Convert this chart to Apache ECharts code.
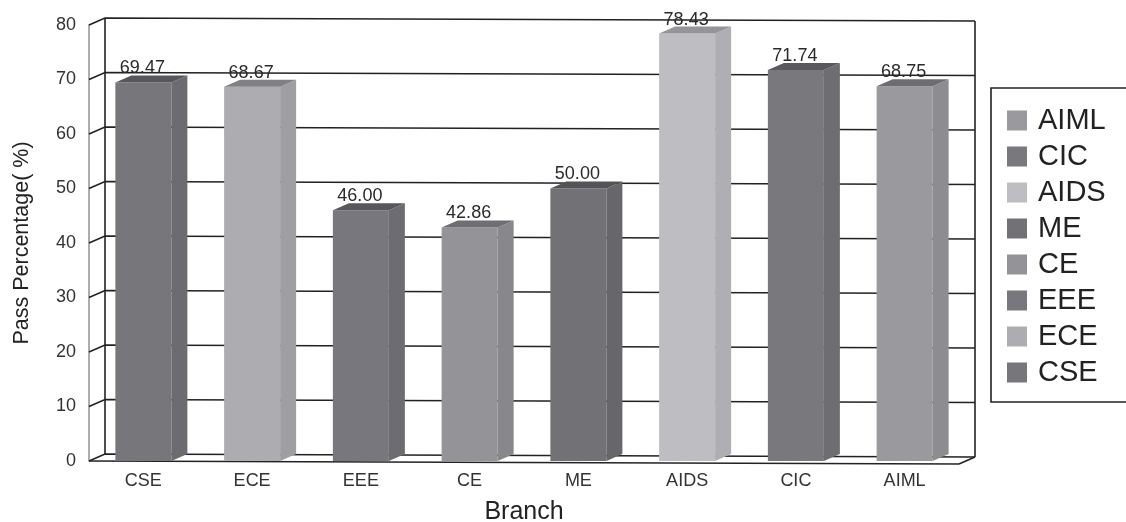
<!DOCTYPE html>
<html>
<head>
<meta charset="utf-8">
<style>html,body{margin:0;padding:0;background:#fff}#c{width:1126px;height:522px}</style>
<script src="https://cdn.jsdelivr.net/npm/echarts@6/dist/echarts.min.js"></script>
</head>
<body>
<div id="c"></div>
<script>
const categories = ['CSE','ECE','EEE','CE','ME','AIDS','CIC','AIML'];
const values = [69.47,68.67,46.00,42.86,50.00,78.43,71.74,68.75];
const yTicks = [0,10,20,30,40,50,60,70,80];
const legendOrder = ['AIML','CIC','AIDS','ME','CE','EEE','ECE','CSE'];
const frontColors = ['#76767b','#acacb1','#77777d','#939398','#717176','#bdbdc2','#78787d','#99999e'];
const sideColors  = ['#6b6b70','#9e9ea3','#6c6c72','#87878c','#66666b','#aeaeb3','#6d6d72','#8c8c91'];
const topColors   = ['#56565b','#808085','#57575c','#6e6e73','#535358','#949499','#58585d','#6c6c71'];

const DX = 16, DY = -7, TILT = 3, INK = '#222';

function renderFrame(params, api) {
  const tick = api.value(1);
  const rect = params.coordSys;
  const p = api.coord([0, tick]);
  const y = p[1];
  const left = rect.x, right = rect.x + rect.width;
  const children = [{
    type: 'polyline',
    shape: { points: [[left, y], [left + DX, y + DY], [right + DX, y + DY + TILT]] },
    style: { stroke: INK, lineWidth: 1.6, fill: 'none' }
  }];
  if (tick === 0) {
    const top = rect.y;
    children.push(
      { type: 'line', shape: { x1: left, y1: y, x2: right, y2: y + TILT }, style: { stroke: INK, lineWidth: 1.6 } },
      { type: 'line', shape: { x1: right, y1: y + TILT, x2: right + DX, y2: y + DY + TILT }, style: { stroke: INK, lineWidth: 1.6 } },
      { type: 'line', shape: { x1: left + DX, y1: y + DY, x2: left + DX, y2: top + DY }, style: { stroke: INK, lineWidth: 1.6 } },
      { type: 'line', shape: { x1: right + DX, y1: y + DY + TILT, x2: right + DX, y2: top + DY + TILT }, style: { stroke: INK, lineWidth: 1.6 } }
    );
  }
  return { type: 'group', children };
}

function barRenderer(i) {
  return function (params, api) {
    const band = api.size([1, 0])[0];
    const w = band * 0.515;
    const top = api.coord([api.value(0), api.value(1)]);
    const base = api.coord([api.value(0), 0]);
    const x0 = top[0] - w / 2, x1 = top[0] + w / 2, yt = top[1], yb = base[1];
    return {
      type: 'group',
      children: [
        { type: 'rect', shape: { x: x0, y: yt, width: w, height: yb - yt }, style: { fill: frontColors[i] } },
        { type: 'polygon', shape: { points: [[x1, yt], [x1 + DX, yt + DY], [x1 + DX, yb + DY], [x1, yb]] }, style: { fill: sideColors[i] } },
        { type: 'polygon', shape: { points: [[x0, yt], [x0 + DX, yt + DY], [x1 + DX, yt + DY], [x1, yt]] }, style: { fill: topColors[i] } },
        { type: 'text', style: { x: top[0] - 1, y: yt + DY + 2, text: values[i].toFixed(2), fill: '#2a2a2a',
            font: '18px "Liberation Sans"', align: 'center', verticalAlign: 'bottom' } }
      ]
    };
  };
}

const series = [{
  type: 'custom', name: 'frame', coordinateSystem: 'cartesian2d', clip: false, silent: true, z: 1,
  renderItem: renderFrame, encode: { x: 0, y: 1 },
  data: yTicks.map(t => [0, t])
}];
categories.forEach((name, i) => {
  series.push({
    type: 'custom', name, coordinateSystem: 'cartesian2d', clip: false, silent: true, z: 2,
    renderItem: barRenderer(i), encode: { x: 0, y: 1 },
    itemStyle: { color: frontColors[i] },
    data: [[i, values[i]]]
  });
});

const chart = echarts.init(document.getElementById('c'), null, { renderer: 'canvas' });
chart.setOption({
  animation: false,
  backgroundColor: '#fff',
  grid: { left: 89, top: 25, width: 870, height: 436, containLabel: false, outerBoundsMode: 'none' },
  xAxis: {
    type: 'category', data: categories,
    name: 'Branch', nameLocation: 'middle', nameGap: 39,
    nameTextStyle: { fontFamily: 'Liberation Sans', fontSize: 25, color: '#222' },
    axisLine: { show: false }, axisTick: { show: false },
    axisLabel: { fontFamily: 'Liberation Sans', fontSize: 18, color: '#333', margin: 11 }
  },
  yAxis: {
    type: 'value', min: 0, max: 80, interval: 10,
    name: 'Pass Percentage( %)', nameLocation: 'middle', nameGap: 56,
    nameTextStyle: { fontFamily: 'Liberation Sans', fontSize: 21.5, color: '#222' },
    axisLine: { show: true, lineStyle: { color: '#999', width: 1.6 } },
    axisTick: { show: false }, splitLine: { show: false },
    axisLabel: { fontFamily: 'Liberation Sans', fontSize: 18, color: '#333', margin: 13, padding: [0, 0, 2, 0] }
  },
  legend: {
    data: legendOrder, orient: 'vertical', left: 991, top: 88,
    icon: 'rect', itemWidth: 20, itemHeight: 20, itemGap: 7,
    padding: [18, 32, 15, 16],
    selectedMode: false,
    backgroundColor: '#fff', borderColor: '#222', borderWidth: 1.6, borderRadius: 0,
    textStyle: { fontFamily: 'Liberation Sans', fontSize: 29, lineHeight: 29, color: '#222', padding: [0, 0, 0, 6] }
  },
  series
});
</script>
</body>
</html>
